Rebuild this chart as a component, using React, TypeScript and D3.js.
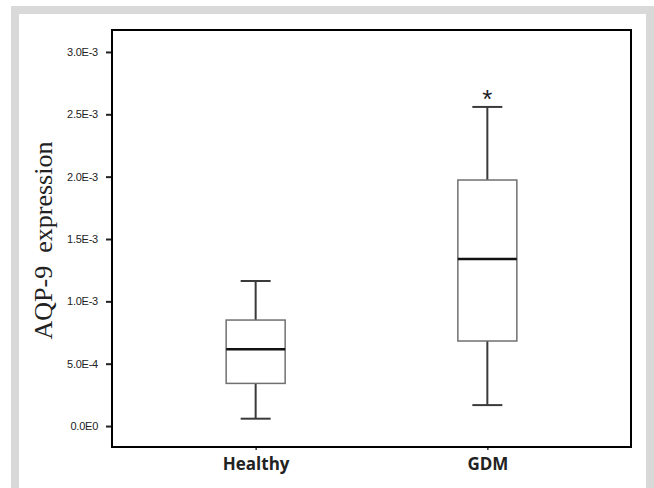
import React, { useEffect, useRef } from 'react';
import * as d3 from 'd3';

const groups = ['Healthy', 'GDM'];
const mins = [0.059e-3, 0.168e-3];
const q1s = [0.342e-3, 0.682e-3];
const medians = [0.615e-3, 1.34e-3];
const q3s = [0.85e-3, 1.973e-3];
const maxs = [1.163e-3, 2.559e-3];
const marks = ['', '*'];
const yTicks = [0, 0.5e-3, 1.0e-3, 1.5e-3, 2.0e-3, 2.5e-3, 3.0e-3];
const yTickLabels = ['0.0E0', '5.0E-4', '1.0E-3', '1.5E-3', '2.0E-3', '2.5E-3', '3.0E-3'];

export default function App() {
  const ref = useRef<SVGSVGElement>(null);

  useEffect(() => {
    const svg = d3.select(ref.current);
    svg.selectAll('*').remove();

    const W = 654;
    const H = 488;
    const left = 112, right = 631, top = 30, bottom = 447;

    // page frame
    svg.append('rect').attr('x', 0).attr('y', 0).attr('width', W).attr('height', H).attr('fill', '#fff');
    svg.append('rect').attr('x', 11).attr('y', 6).attr('width', W - 11).attr('height', H - 6).attr('fill', '#d9d9d9');
    svg.append('rect').attr('x', 19).attr('y', 14).attr('width', 627).attr('height', H - 14).attr('fill', '#fff');

    const x = d3.scalePoint<string>().domain(groups).range([left, right]).padding(0.62);
    const y = d3.scaleLinear().domain([-0.168e-3, 3.176e-3]).range([bottom, top]);

    // y axis ticks
    const yAxis = svg.append('g')
      .attr('transform', `translate(${left},0)`)
      .call(
        d3.axisLeft(y)
          .tickValues(yTicks)
          .tickSize(6)
          .tickPadding(8)
          .tickFormat((d, i) => yTickLabels[i])
      );
    yAxis.select('.domain').remove();
    yAxis.selectAll('.tick line').attr('stroke', '#222').attr('stroke-width', 2);
    yAxis.selectAll('.tick text')
      .attr('font-family', 'Liberation Sans, Arial, sans-serif')
      .attr('font-size', 11)
      .attr('letter-spacing', -0.25)
      .attr('fill', '#222');

    // x axis ticks
    const xAxis = svg.append('g')
      .attr('transform', `translate(0,${bottom})`)
      .call(d3.axisBottom(x).tickSize(3).tickPadding(8));
    xAxis.select('.domain').remove();
    xAxis.selectAll('.tick line').attr('stroke', '#333').attr('stroke-width', 1.5);
    xAxis.selectAll('.tick text')
      .attr('font-family', 'Open Sans, sans-serif')
      .attr('font-weight', 'bold')
      .attr('font-size', 17)
      .attr('fill', '#222');

    // frame
    svg.append('rect')
      .attr('x', left).attr('y', top)
      .attr('width', right - left).attr('height', bottom - top)
      .attr('fill', 'none').attr('stroke', '#000').attr('stroke-width', 2);

    const boxW = 59;
    const capW = 30;
    const g = svg.append('g').selectAll('g').data(groups).enter().append('g');

    g.append('line')
      .attr('x1', (d) => x(d)!).attr('x2', (d) => x(d)!)
      .attr('y1', (d, i) => y(maxs[i])).attr('y2', (d, i) => y(q3s[i]))
      .attr('stroke', '#3a3a3a').attr('stroke-width', 2);
    g.append('line')
      .attr('x1', (d) => x(d)!).attr('x2', (d) => x(d)!)
      .attr('y1', (d, i) => y(q1s[i])).attr('y2', (d, i) => y(mins[i]))
      .attr('stroke', '#3a3a3a').attr('stroke-width', 2);
    g.append('line')
      .attr('x1', (d) => x(d)! - capW / 2).attr('x2', (d) => x(d)! + capW / 2)
      .attr('y1', (d, i) => y(maxs[i])).attr('y2', (d, i) => y(maxs[i]))
      .attr('stroke', '#3a3a3a').attr('stroke-width', 2);
    g.append('line')
      .attr('x1', (d) => x(d)! - capW / 2).attr('x2', (d) => x(d)! + capW / 2)
      .attr('y1', (d, i) => y(mins[i])).attr('y2', (d, i) => y(mins[i]))
      .attr('stroke', '#3a3a3a').attr('stroke-width', 2);
    g.append('rect')
      .attr('x', (d) => x(d)! - boxW / 2)
      .attr('y', (d, i) => y(q3s[i]))
      .attr('width', boxW)
      .attr('height', (d, i) => y(q1s[i]) - y(q3s[i]))
      .attr('fill', '#fff').attr('stroke', '#707070').attr('stroke-width', 1.5);
    g.append('line')
      .attr('x1', (d) => x(d)! - boxW / 2).attr('x2', (d) => x(d)! + boxW / 2)
      .attr('y1', (d, i) => y(medians[i])).attr('y2', (d, i) => y(medians[i]))
      .attr('stroke', '#111').attr('stroke-width', 2.5);
    g.append('text')
      .attr('x', (d) => x(d)!)
      .attr('y', (d, i) => y(maxs[i]) + 1)
      .attr('text-anchor', 'middle')
      .attr('font-family', 'Liberation Sans, Arial, sans-serif')
      .attr('font-size', 26)
      .attr('fill', '#222')
      .text((d, i) => marks[i]);

    // y label
    svg.append('text')
      .attr('transform', `translate(52,${(top + bottom) / 2 + 2}) rotate(-90)`)
      .attr('text-anchor', 'middle')
      .attr('font-family', 'Liberation Serif, Times New Roman, serif')
      .attr('font-size', 26)
      .attr('fill', '#222')
      .style('white-space', 'pre')
      .text('AQP-9  expression');
  }, []);

  return (
    <svg
      ref={ref}
      width={654}
      height={488}
      style={{ position: 'absolute', left: 0, top: 0, display: 'block' }}
    />
  );
}
